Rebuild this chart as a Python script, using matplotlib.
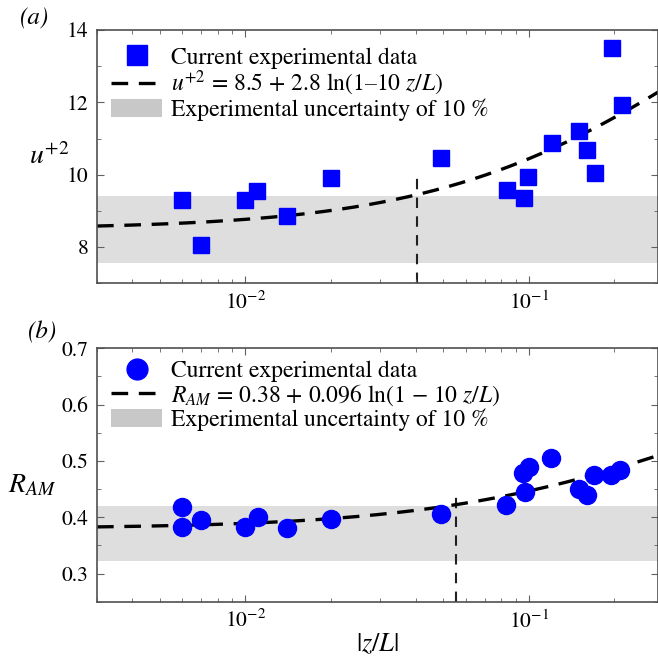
import numpy as np
import matplotlib
matplotlib.use("Agg")
import matplotlib.pyplot as plt
from matplotlib.lines import Line2D
from matplotlib.patches import Patch

plt.rcParams['font.family'] = ['STIXGeneral', 'DejaVu Serif']
plt.rcParams['mathtext.fontset'] = 'stix'

# ---- data ----
zL_a = [0.0060, 0.0070, 0.0100, 0.0110, 0.0140, 0.0201,
        0.0491, 0.0841, 0.0962, 0.0994, 0.121, 0.151, 0.161, 0.171, 0.1976, 0.2127]
u2_a = [9.30, 8.06, 9.30, 9.56, 8.86, 9.92,
        10.46, 9.58, 9.37, 9.95, 10.89, 11.22, 10.69, 10.06, 13.49, 11.93]

zL_b = [0.0060, 0.0060, 0.0070, 0.00995, 0.0111, 0.0140, 0.0200,
        0.0489, 0.0830, 0.0974, 0.0955, 0.1003, 0.120, 0.150, 0.1604, 0.170, 0.1955, 0.2103]
ram_b = [0.418, 0.383, 0.395, 0.383, 0.400, 0.380, 0.397,
         0.406, 0.422, 0.444, 0.478, 0.490, 0.505, 0.450, 0.440, 0.475, 0.475, 0.483]

fit_a = (8.5, 2.8)
fit_b = (0.38, 0.096)
band_a = (7.56, 9.42)
band_b = (0.322, 0.420)
vline_a = (0.0403, 10.0)
vline_b = (0.0555, 0.441)
xlim = (0.003, 0.286)
ylim_a = (7, 14)
ylim_b = (0.25, 0.7)
yticks_a = [8, 10, 12, 14]
yticks_b = [0.3, 0.4, 0.5, 0.6, 0.7]

W = H = 658
fig = plt.figure(figsize=(6.58, 6.58), dpi=100)

def fx(px):
    return px / W

def fy(py):
    return 1 - py / H

ax1 = fig.add_axes([fx(97), fy(283.3), 1.0 - fx(97), fy(30) - fy(283.3)])
ax2 = fig.add_axes([fx(97), fy(601.7), 1.0 - fx(97), fy(348.3) - fy(601.7)])

xc = np.logspace(np.log10(xlim[0]), np.log10(xlim[1]), 300)
band_color = '#dedede'
spine_color = '#505050'

def style(ax):
    ax.set_xscale('log')
    ax.set_xlim(*xlim)
    for s in ax.spines.values():
        s.set_color(spine_color)
        s.set_linewidth(1.2)
    ax.tick_params(which='both', direction='in', top=True, right=True,
                   color='#606060', labelsize=15.5, pad=6)
    ax.tick_params(which='major', length=5)
    ax.tick_params(which='minor', length=3)

leg_kw = dict(loc='upper left', frameon=False, fontsize=17, handlelength=2.15,
              handleheight=0.8, labelspacing=0.02, handletextpad=0.4,
              borderaxespad=0.2)

# panel (a)
style(ax1)
ax1.axhspan(band_a[0], band_a[1], color=band_color, lw=0, zorder=0)
ax1.plot(xc, fit_a[0] + fit_a[1] * np.log(1 + 10 * xc), color='black', lw=2.4,
         dashes=(5, 3.2), zorder=2)
ax1.plot([vline_a[0], vline_a[0]], [ylim_a[0], vline_a[1]], color='#202020', lw=1.5,
         dashes=(5, 4), zorder=1)
ax1.plot(zL_a, u2_a, 's', color='#0000ff', ms=11, mec='#0000ff', zorder=3)
ax1.set_ylim(*ylim_a)
ax1.set_yticks(yticks_a)
ax1.set_yticks([7, 9, 11, 13], minor=True)
ax1.yaxis.set_tick_params(which='minor', labelleft=False)
ax1.set_ylabel(r'$u^{+2}$', fontsize=20, rotation=0, va='center')
ax1.yaxis.set_label_coords(-0.085, 0.5)

h1 = [Line2D([], [], ls='none', marker='s', ms=14, color='#0000ff'),
      Line2D([], [], color='black', lw=2.4, dashes=(5, 3.2)),
      Patch(facecolor='#c8c8c8', edgecolor='none')]
l1 = ['Current experimental data',
      r'$u^{+2}$ = 8.5 + 2.8 ln(1–10 $z/L$)',
      'Experimental uncertainty of 10 %']
ax1.legend(h1, l1, bbox_to_anchor=(0.0, 0.99), **leg_kw)

# panel (b)
style(ax2)
ax2.axhspan(band_b[0], band_b[1], color=band_color, lw=0, zorder=0)
ax2.plot(xc, fit_b[0] + fit_b[1] * np.log(1 + 10 * xc), color='black', lw=2.4,
         dashes=(5, 3.2), zorder=2)
ax2.plot([vline_b[0], vline_b[0]], [ylim_b[0], vline_b[1]], color='#202020', lw=1.5,
         dashes=(5, 4), zorder=1)
ax2.plot(zL_b, ram_b, 'o', color='#0000ff', ms=13, mec='#0000ff', zorder=3)
ax2.set_ylim(*ylim_b)
ax2.set_yticks(yticks_b)
ax2.set_yticklabels([f'{t:.1f}' for t in yticks_b])
ax2.set_yticks([0.25, 0.35, 0.45, 0.55, 0.65], minor=True)
ax2.yaxis.set_tick_params(which='minor', labelleft=False)
ax2.set_ylabel(r'$R_{AM}$', fontsize=20, rotation=0, va='center')
ax2.yaxis.set_label_coords(-0.115, 0.46)
ax2.set_xlabel(r'$|z/L|$', fontsize=19, labelpad=0)

h2 = [Line2D([], [], ls='none', marker='o', ms=15, color='#0000ff'),
      Line2D([], [], color='black', lw=2.4, dashes=(5, 3.2)),
      Patch(facecolor='#c8c8c8', edgecolor='none')]
l2 = ['Current experimental data',
      r'$R_{AM}$ = 0.38 + 0.096 ln(1 − 10 $z/L$)',
      'Experimental uncertainty of 10 %']
ax2.legend(h2, l2, bbox_to_anchor=(0.0, 1.01), **leg_kw)

fig.text(fx(20), fy(18), '(a)', fontsize=18, style='italic', va='center', ha='left')
fig.text(fx(28), fy(332), '(b)', fontsize=18, style='italic', va='center', ha='left')

fig.savefig('out.png', dpi=100)
